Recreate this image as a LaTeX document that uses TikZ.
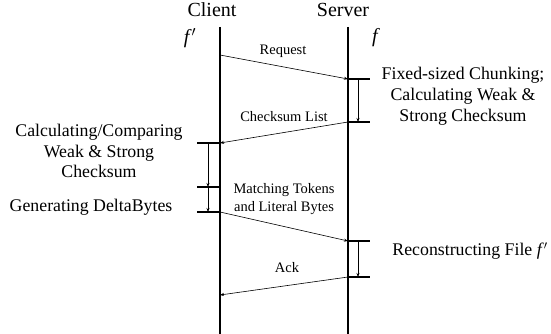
\documentclass[tikz,border=0pt]{standalone}
\usepackage{fontspec}
\setmainfont{Liberation Serif}
\usetikzlibrary{arrows.meta}
\begin{document}
\begin{tikzpicture}[x=1pt,y=-1pt,
  life/.style={line width=1.8pt},
  tickmark/.style={line width=1.5pt},
  msg/.style={line width=0.6pt,-{Stealth[length=4pt,width=3pt]}},
  dur/.style={line width=0.6pt,-{Stealth[length=4pt,width=3pt]}},
  title/.style={font=\fontsize{20}{24}\selectfont, inner sep=0pt, anchor=base},
  big/.style={font=\fontsize{17.8}{20.8}\selectfont, align=center, inner sep=0pt},
  lab/.style={font=\fontsize{14.5}{18.5}\selectfont, align=center, inner sep=0pt}]
\useasboundingbox (0,0) rectangle (551,334);
% lifelines
\coordinate (ctop) at (220,27); \coordinate (cbot) at (220,334);
\coordinate (stop) at (348,27); \coordinate (sbot) at (348,334);
\draw[life] (ctop) -- (cbot);
\draw[life] (stop) -- (sbot);
% titles
\node[title] (client) at (212,17) {Client};
\node[title] (server) at (343,17) {Server};
\node[big, font=\fontsize{20}{24}\selectfont] (fp) at (190,38) {\textit{f}$'$};
\node[big, font=\fontsize{20}{24}\selectfont] (f) at (376,38) {\textit{f}};
% event points
\coordinate (c1) at (220,55);
\coordinate (s1) at (348,79);
\coordinate (s2) at (348,122);
\coordinate (c2) at (220,143);
\coordinate (c3) at (220,187);
\coordinate (c4) at (220,212);
\coordinate (s3) at (348,241);
\coordinate (s4) at (348,277);
\coordinate (c5) at (220,295);
% ticks
\foreach \p in {s1,s2,s3,s4} \draw[tickmark] (\p) -- ++(22,0);
\foreach \p in {c2,c3,c4} \draw[tickmark] (\p) -- ++(-23,0);
% duration arrows
\draw[dur] ([xshift=10pt]s1) -- ([xshift=10pt]s2);
\draw[dur] ([xshift=10pt]s3) -- ([xshift=10pt]s4);
\draw[dur] ([xshift=-12pt]c2) -- ([xshift=-12pt]c3);
\draw[dur] ([xshift=-12pt]c3) -- ([xshift=-12pt]c4);
% messages
\draw[msg] (c1) -- (s1);
\draw[msg] (s2) -- (c2);
\draw[msg] (c4) -- (s3);
\draw[msg] (s4) -- (c5);
% labels
\node[lab] (req) at (283,51) {Request};
\node[lab] (csl) at (284,117) {Checksum List};
\node[lab] (mt) at (284,199) {Matching Tokens\\and Literal Bytes};
\node[lab] (ack) at (287,268) {Ack};
\node[big] (srv1) at (463,96) {Fixed-sized Chunking;\\Calculating Weak \&\\Strong Checksum};
\node[big] (cli1) at (99,151) {Calculating/Comparing\\Weak \& Strong\\Checksum};
\node[big] (cli2) at (91,207) {Generating DeltaBytes};
\node[big] (srv2) at (470,251) {Reconstructing File \textit{f}$'$};
\end{tikzpicture}
\end{document}
